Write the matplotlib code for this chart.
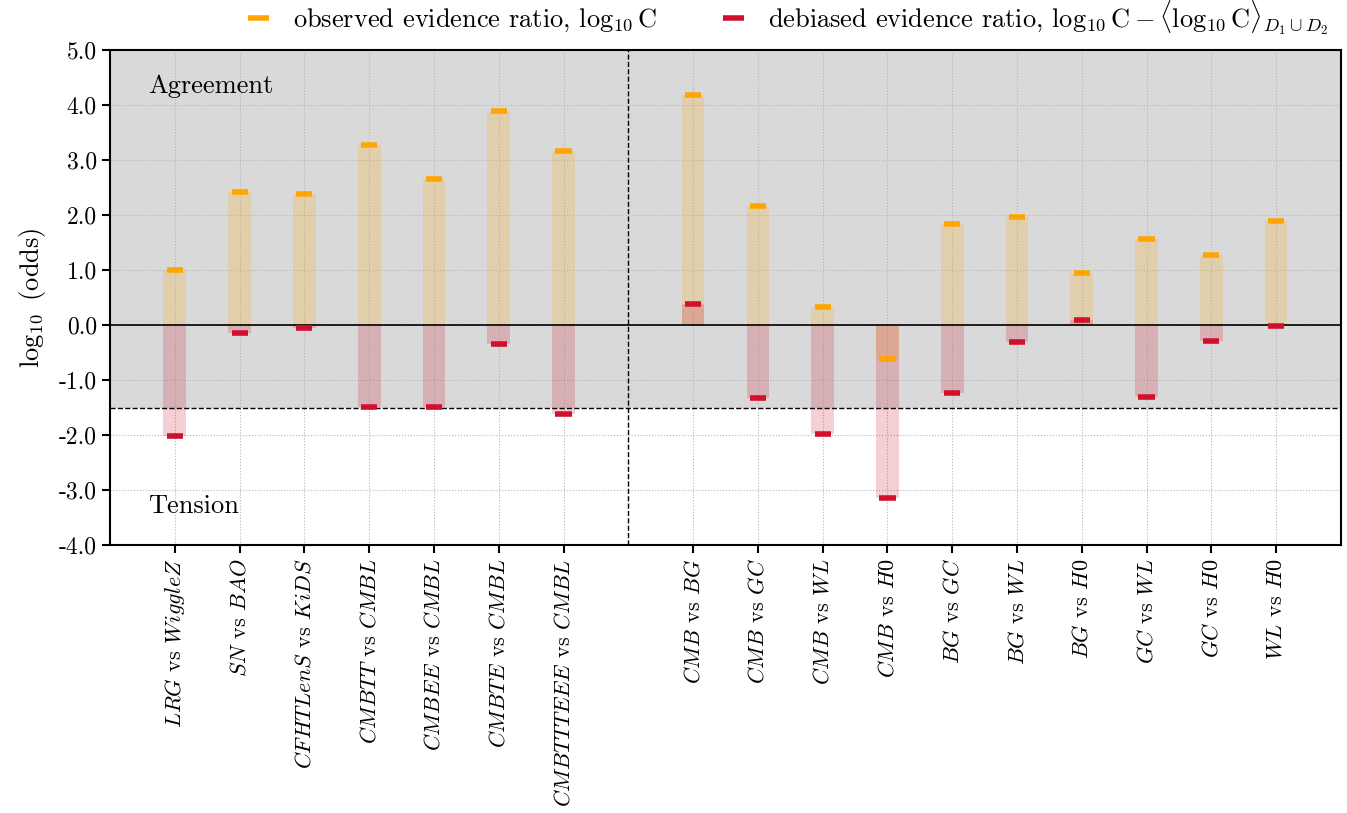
import numpy as np
import matplotlib
matplotlib.use("Agg")
import matplotlib.pyplot as plt
from matplotlib.lines import Line2D

plt.rcParams["font.family"] = "serif"
plt.rcParams["font.serif"] = ["cmr10", "DejaVu Serif"]
plt.rcParams["mathtext.fontset"] = "cm"
plt.rcParams["axes.unicode_minus"] = False

# Dataset pairs: left block (CMB/LSS combinations), right block (probe pairs)
pairs_left = [
    r"$LRG$ vs $WiggleZ$",
    r"$SN$ vs $BAO$",
    r"$CFHTLenS$ vs $KiDS$",
    r"$CMBTT$ vs $CMBL$",
    r"$CMBEE$ vs $CMBL$",
    r"$CMBTE$ vs $CMBL$",
    r"$CMBTTTEEE$ vs $CMBL$",
]
pairs_right = [
    r"$CMB$ vs $BG$",
    r"$CMB$ vs $GC$",
    r"$CMB$ vs $WL$",
    r"$CMB$ vs $H0$",
    r"$BG$ vs $GC$",
    r"$BG$ vs $WL$",
    r"$BG$ vs $H0$",
    r"$GC$ vs $WL$",
    r"$GC$ vs $H0$",
    r"$WL$ vs $H0$",
]

# observed log10 C
observed_left = [1.00, 2.42, 2.38, 3.27, 2.65, 3.89, 3.16]
observed_right = [4.18, 2.17, 0.32, -0.62, 1.83, 1.96, 0.95, 1.56, 1.28, 1.90]

# debiased log10 C - <log10 C>
debiased_left = [-2.02, -0.145, -0.06, -1.49, -1.49, -0.35, -1.61]
debiased_right = [0.38, -1.33, -1.98, -3.15, -1.23, -0.315, 0.10, -1.30, -0.285, -0.01]

ytick_values = [-4, -3, -2, -1, 0, 1, 2, 3, 4, 5]
ytick_labels = ["-4.0", "-3.0", "-2.0", "-1.0", "0.0", "1.0", "2.0", "3.0", "4.0", "5.0"]

tension_threshold = -1.5

ORANGE = "#ffa500"
RED = "#d0102c"

labels = pairs_left + pairs_right
observed = np.array(observed_left + observed_right)
debiased = np.array(debiased_left + debiased_right)
pos = np.concatenate([np.arange(len(pairs_left)),
                      np.arange(len(pairs_right)) + len(pairs_left) + 1])
sep = len(pairs_left)

fig = plt.figure(figsize=(13.47, 8.13), dpi=100)
ax = fig.add_axes([0.0817, 0.3296, 0.9138, 0.6089])

ax.set_xlim(-1, pos[-1] + 1)
ax.set_ylim(-4, 5)

# agreement region shading
ax.axhspan(tension_threshold, 5, color="#d9d9d9", zorder=0, lw=0)
ax.grid(True, ls=":", color="#b5b5b5", lw=0.8, zorder=0.5)
ax.set_axisbelow(True)

bar_w = 0.35
ax.bar(pos, observed, width=bar_w, color=ORANGE, alpha=0.2, zorder=1, lw=0)
ax.bar(pos, debiased, width=bar_w, color=RED, alpha=0.2, zorder=1, lw=0)

ax.axhline(0, color="black", lw=1.2, zorder=2)
ax.axhline(tension_threshold, color="black", lw=1.0, ls="--", zorder=2)
ax.axvline(sep, color="black", lw=1.0, ls="--", zorder=2)

mk_half = 0.125
ax.hlines(observed, pos - mk_half, pos + mk_half, color=ORANGE, lw=4, zorder=3)
ax.hlines(debiased, pos - mk_half, pos + mk_half, color=RED, lw=4, zorder=3)

ax.text(-0.42, 4.35, "Agreement", fontsize=19, va="center", ha="left")
ax.text(-0.42, -3.3, "Tension", fontsize=19, va="center", ha="left")

ax.set_yticks(ytick_values)
ax.set_yticklabels(ytick_labels, fontsize=17)
ax.set_xticks(pos)
ax.set_xticklabels(labels, rotation=90, fontsize=16)
ax.set_ylabel(r"$\log_{10}$ (odds)", fontsize=19, labelpad=8)

for s in ax.spines.values():
    s.set_linewidth(1.5)
ax.tick_params(axis="both", which="major", direction="out", length=6, width=1.5)

handles = [
    Line2D([], [], color=ORANGE, lw=4, solid_capstyle="butt"),
    Line2D([], [], color=RED, lw=4, solid_capstyle="butt"),
]
leg_labels = [
    r"observed evidence ratio, $\log_{10}\mathrm{C}$",
    r"debiased evidence ratio, $\log_{10}\mathrm{C}-\langle\log_{10}\mathrm{C}\rangle_{D_1\cup D_2}$",
]
ax.legend(handles, leg_labels, loc="lower right", bbox_to_anchor=(1.0, 1.0),
          ncol=2, frameon=False, fontsize=19, handlelength=0.8,
          columnspacing=2.5, handletextpad=0.9, borderaxespad=0.1)

fig.savefig("out.png", dpi=100)
